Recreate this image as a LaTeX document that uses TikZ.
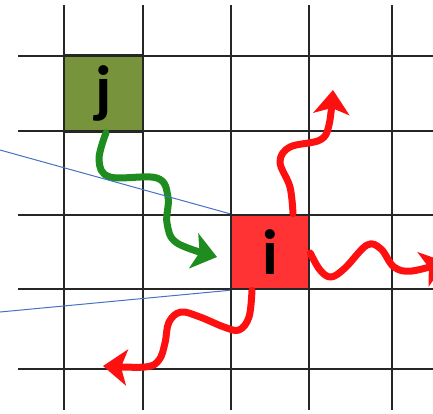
\documentclass[tikz,border=0pt]{standalone}
\usepackage{fontspec}
\newfontfamily\lblfont{Carlito}
\usetikzlibrary{arrows.meta}
\definecolor{gridc}{HTML}{262626}
\definecolor{jgreen}{HTML}{77933C}
\definecolor{ired}{HTML}{FF3333}
\definecolor{agreen}{HTML}{1E8C1E}
\definecolor{ared}{HTML}{FF1010}
\definecolor{bluel}{HTML}{4472C4}
\tikzset{
  gridline/.style={draw=gridc, line width=2.6pt},
  cellbox/.style={draw=gridc, line width=2.6pt, minimum width=79pt, minimum height=76pt, inner sep=0pt,
    font=\lblfont\bfseries\fontsize{64}{66}\selectfont},
  wavy/.style={line width=7pt, line cap=round, line join=round,
    -{Stealth[length=24pt, width=36pt, inset=6pt]}},
  pointer/.style={draw=bluel, line width=1pt}
}
\begin{document}
\begin{tikzpicture}[x=1pt, y=-1pt]
\useasboundingbox (0,0) rectangle (433,413);
\clip (0,0) rectangle (433,413);
% grid
\foreach \x in {64,143,231,309,392} \draw[gridline] (\x,5) -- (\x,410);
\foreach \y in {56,131,215,289,369} \draw[gridline] (18,\y) -- (433,\y);
% cells
\node[cellbox, fill=jgreen] (j) at (103.5,93.5) {j};
\node[cellbox, fill=ired, minimum width=78pt, minimum height=74pt] (i) at (270,252) {i};
% green arrow j -> i
\draw[wavy, agreen] plot[smooth, tension=0.6] coordinates {
  (j.south -| 106,0) (99,160) (110,177) (157,178) (168,197) (167,223) (177,243) (217,257)};
% red arrows out of i
\draw[wavy, ared] plot[smooth, tension=0.6] coordinates {
  (i.north -| 293,0) (290,187) (280,162) (290,147) (320,140) (329,125) (333,90)};
\draw[wavy, ared] plot[smooth, tension=0.6] coordinates {
  (i.east |- 0,253) (320,270) (331,277) (345,268) (367,245) (381,249) (394,267) (412,271) (446,262)};
\draw[wavy, ared] plot[smooth, tension=0.6] coordinates {
  (i.south -| 252,0) (249,317) (239,330) (224,327) (200,317) (181,312) (169,322) (165,343) (159,360) (145,367) (103,366)};
% blue pointer lines
\coordinate (p1) at (0,150);
\coordinate (p2) at (0,312);
\draw[pointer] (p1) -- (i.north west);
\draw[pointer] (p2) -- (i.south west);
\end{tikzpicture}
\end{document}
